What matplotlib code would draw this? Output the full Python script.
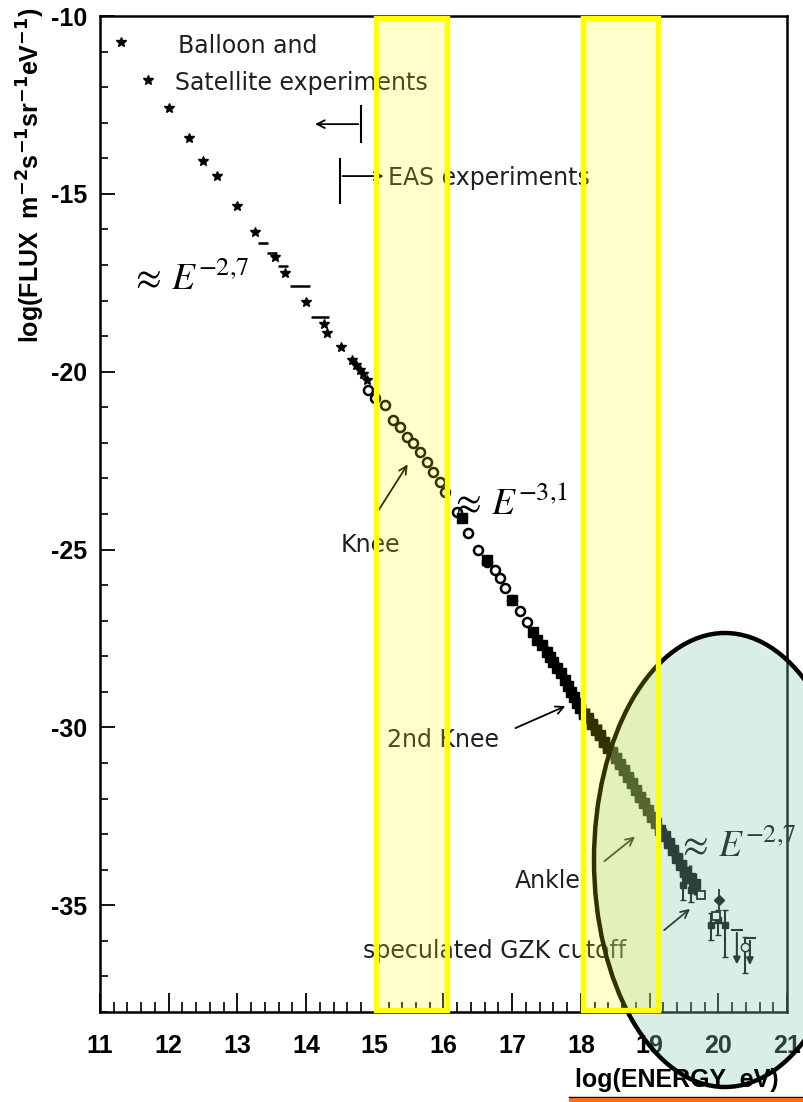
import matplotlib.pyplot as plt
from matplotlib.patches import Rectangle, Ellipse
from matplotlib.lines import Line2D

plt.rcParams['axes.unicode_minus'] = False
plt.rcParams['font.family'] = ['Liberation Sans', 'DejaVu Sans']

# balloon and satellite measurements (stars)
bs_logE = [11.31, 11.70, 12.00, 12.30, 12.50, 12.70, 12.99, 13.26, 13.55, 13.69,
           14.00, 14.26, 14.30, 14.51, 14.67, 14.73, 14.78, 14.83, 14.89]
bs_logF = [-10.73, -11.80, -12.59, -13.43, -14.08, -14.50, -15.34, -16.07, -16.78, -17.23,
           -18.04, -18.66, -18.91, -19.31, -19.67, -19.80, -19.95, -20.06, -20.23]

# bin-width bars of the early air-shower points
dash_logE = [13.37, 13.50, 13.66, 13.91, 14.20]
dash_logF = [-16.38, -16.66, -17.03, -17.59, -18.46]
dash_half = [0.07, 0.07, 0.07, 0.15, 0.13]

# EAS points around the knee (open circles)
circ_logE = [14.90, 15.00, 15.15, 15.26, 15.37, 15.47, 15.56, 15.66, 15.76, 15.85, 15.95,
             16.02, 16.20, 16.36, 16.50, 16.63, 16.75, 16.82, 16.90, 17.00, 17.11, 17.22]
circ_logF = [-20.51, -20.74, -20.94, -21.36, -21.55, -21.84, -22.00, -22.26, -22.54, -22.82, -23.10,
             -23.38, -23.94, -24.53, -25.01, -25.35, -25.57, -25.80, -26.08, -26.42, -26.73, -27.04]

# a few filled squares among them
sq_logE = [16.27, 16.64, 17.00]
sq_logF = [-24.11, -25.30, -26.42]

# dense band of measurements 2nd knee -> ankle
band_logE = [17.30, 17.36, 17.43, 17.51, 17.55, 17.59, 17.65, 17.71, 17.77, 17.81,
             17.86, 17.90, 17.94, 17.99, 18.05, 18.10, 18.16, 18.22, 18.28, 18.34,
             18.39, 18.45, 18.51, 18.57, 18.63, 18.69, 18.74, 18.80, 18.86, 18.92,
             18.98, 19.03, 19.09, 19.15, 19.22, 19.28, 19.34, 19.40, 19.46, 19.52,
             19.59, 19.66]
band_logF = [-27.32, -27.54, -27.68, -27.88, -28.02, -28.16, -28.33, -28.47, -28.67, -28.84,
             -29.00, -29.15, -29.31, -29.45, -29.62, -29.74, -29.90, -30.07, -30.21, -30.41,
             -30.58, -30.69, -30.86, -31.03, -31.20, -31.39, -31.56, -31.76, -31.96, -32.13,
             -32.32, -32.52, -32.69, -32.88, -33.05, -33.25, -33.45, -33.67, -33.87, -34.07,
             -34.23, -34.40]
band_err = [0.10, 0.15, 0.12, 0.18, 0.12, 0.15, 0.20, 0.15, 0.18, 0.22,
            0.20, 0.25, 0.22, 0.28, 0.25, 0.30, 0.25, 0.28, 0.30, 0.26,
            0.30, 0.25, 0.28, 0.30, 0.25, 0.28, 0.26, 0.30, 0.25, 0.28,
            0.25, 0.22, 0.25, 0.20, 0.22, 0.20, 0.25, 0.22, 0.30, 0.35,
            0.35, 0.30]

# highest energies: points with error bars
uhe_logE = [19.49, 19.60, 19.89, 20.00, 20.10, 20.39]
uhe_logF = [-34.43, -34.57, -35.56, -35.41, -35.56, -36.17]
uhe_lo = [0.42, 0.34, 0.42, 0.43, 0.89, 0.73]
uhe_hi = [0.42, 0.36, 0.34, 0.28, 0.43, 0.28]
open_sq_logE = [19.75, 19.96]
open_sq_logF = [-34.71, -35.30]
dia_logE = [20.01]
dia_logF = [-34.85]

# upper limits
ul_logE = [20.27, 20.46]
ul_top = [-35.70, -35.92]
ul_bot = [-36.74, -36.76]

# highlighted energy bands
bands = [(15.02, 16.05), (18.03, 19.12)]

W, H = 804, 1102
fig = plt.figure(figsize=(W / 100, H / 100), dpi=100)
ax = fig.add_axes([100 / W, 1 - 1012 / H, 687 / W, 996 / H])
ax.set_xlim(11, 21)
ax.set_ylim(-38, -10)

ax.plot(bs_logE, bs_logF, '*', color='k', ms=7, zorder=3)
ax.errorbar(dash_logE, dash_logF, xerr=dash_half, fmt='none', ecolor='k', elinewidth=1.8, zorder=3)
ax.plot(circ_logE, circ_logF, 'o', mfc='white', mec='k', mew=1.8, ms=6.5, zorder=3)
ax.plot(sq_logE, sq_logF, 's', color='k', ms=7, zorder=3)
ax.errorbar(band_logE, band_logF, yerr=band_err, fmt='s', color='k', ms=7,
            elinewidth=2.5, capsize=0, zorder=3)
ax.errorbar(uhe_logE, uhe_logF, yerr=[uhe_lo, uhe_hi], fmt='s', color='k', ms=5,
            elinewidth=1.5, capsize=2.5, zorder=3)
ax.plot(open_sq_logE, open_sq_logF, 's', mfc='white', mec='k', mew=1.3, ms=6, zorder=4)
ax.errorbar(dia_logE, dia_logF, yerr=0.3, fmt='D', color='k', ms=5, elinewidth=1.3, zorder=3)
ax.plot(ul_logE, ul_top, '_', color='k', ms=8, mew=1.5, zorder=3)
for xe, yt, yb in zip(ul_logE, ul_top, ul_bot):
    ax.annotate('', xy=(xe, yb), xytext=(xe, yt),
                arrowprops=dict(arrowstyle='-|>', lw=1.5, color='k', mutation_scale=10))
ax.plot([20.39], [-36.17], 'o', mfc='white', mec='k', ms=6, zorder=4)

# labels and arrows
txt = dict(fontsize=17, color='#202020', family='DejaVu Sans')
ax.text(12.14, -11.04, 'Balloon and', va='baseline', **txt)
ax.text(12.09, -12.08, 'Satellite experiments', va='baseline', **txt)
ax.text(15.19, -14.75, 'EAS experiments', va='baseline', **txt)
ax.text(14.50, -25.07, 'Knee', va='baseline', **txt)
ax.text(15.18, -30.55, '2nd Knee', va='baseline', **txt)
ax.text(17.04, -34.52, 'Ankle', va='baseline', **txt)
ax.text(14.83, -36.48, 'speculated GZK cutoff', va='baseline', **txt)

arr = dict(arrowstyle='->', lw=1.3, color='k', mutation_scale=14)
ax.annotate('', xy=(14.09, -13.04), xytext=(14.80, -13.04), arrowprops=arr)
ax.plot([14.80, 14.80], [-12.53, -13.54], color='k', lw=1.5)
ax.annotate('', xy=(15.17, -14.50), xytext=(14.49, -14.50), arrowprops=arr)
ax.plot([14.49, 14.49], [-14.02, -15.26], color='k', lw=1.5)
ax.annotate('', xy=(15.50, -22.54), xytext=(15.03, -23.97), arrowprops=arr)
ax.annotate('', xy=(17.81, -29.37), xytext=(17.01, -30.05), arrowprops=arr)
ax.annotate('', xy=(18.82, -33.02), xytext=(18.31, -33.81), arrowprops=arr)
ax.annotate('', xy=(19.62, -35.05), xytext=(19.18, -35.75), arrowprops=arr)

slope = dict(fontsize=27, color='k', math_fontfamily='stix', va='baseline')
ax.text(11.43, -17.70, r'$\approx\, E^{-2{,}7}$', **slope)
ax.text(16.10, -24.03, r'$\approx\, E^{-3{,}1}$', **slope)
ax.text(19.40, -33.64, r'$\approx\, E^{-2{,}7}$', **slope)

# axes styling
for s in ax.spines.values():
    s.set_linewidth(1.8)
ax.set_xticks(range(11, 22))
ax.set_xticks([11 + 0.2 * i for i in range(51)], minor=True)
ax.set_yticks([-10, -15, -20, -25, -30, -35])
ax.set_yticks(list(range(-38, -9)), minor=True)
ax.tick_params(axis='x', which='major', direction='in', length=14, width=1.3, pad=16)
ax.tick_params(axis='x', which='minor', direction='in', length=7, width=1.2)
ax.tick_params(axis='y', which='major', direction='in', length=11, width=1.3, pad=9)
ax.tick_params(axis='y', which='minor', direction='in', length=6, width=1.2)
for lab in ax.get_xticklabels() + ax.get_yticklabels():
    lab.set_fontweight('bold')
    lab.set_fontsize(18)

fig.text(31 / W, 1 - 175 / H,
         r'log(FLUX  m$^{\mathbf{-2}}$s$^{\mathbf{-1}}$sr$^{\mathbf{-1}}$eV$^{\mathbf{-1}}$)',
         rotation=90, ha='center', va='center', fontsize=18, fontweight='bold',
         math_fontfamily='dejavusans')
fig.text(677 / W, 1 - 1080 / H, 'log(ENERGY  eV)', ha='center', va='center',
         fontsize=18, fontweight='bold')

# underline under the axis title
fig.add_artist(Line2D([569 / W, 1], [1 - 1097 / H] * 2, transform=fig.transFigure,
                      color='k', lw=1, zorder=5))
fig.add_artist(Rectangle((569 / W, 0), 235 / W, 4 / H, transform=fig.transFigure,
                         facecolor='#ff6a1c', edgecolor='none', zorder=5))

# highlighted region around the highest energies
fig.add_artist(Ellipse((725 / W, 1 - 860 / H), 262 / W, 454 / H, transform=fig.transFigure,
                       facecolor=(0.55, 0.80, 0.72, 0.32), edgecolor='k', lw=3.2, zorder=2))

# energy windows
for x0, x1 in bands:
    fig.add_artist(Rectangle((x0, -37.93), x1 - x0, 27.86, transform=ax.transData,
                             facecolor=(1, 1, 0, 0.2), edgecolor=(1, 1, 0, 1),
                             lw=3.8, zorder=3))

fig.savefig('out.png', dpi=100)
